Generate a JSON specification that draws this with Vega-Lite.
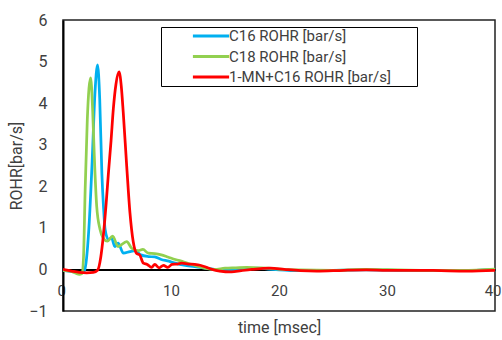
{
  "$schema": "https://vega.github.io/schema/vega-lite/v6.json",
  "width": 432,
  "height": 291,
  "autosize": "none",
  "padding": {"left": 63, "top": 20, "right": 7, "bottom": 29},
  "config": {
    "font": "Liberation Sans Narrow, Roboto, sans-serif",
    "view": {"stroke": "#222", "strokeWidth": 1.5}
  },
  "datasets": {
    "rohr": [
      {"t": 0, "v": -0.02, "s": "C16 ROHR [bar/s]"},
      {"t": 1, "v": -0.06, "s": "C16 ROHR [bar/s]"},
      {"t": 1.5, "v": -0.08, "s": "C16 ROHR [bar/s]"},
      {"t": 1.9, "v": -0.07, "s": "C16 ROHR [bar/s]"},
      {"t": 2.1, "v": 0.1, "s": "C16 ROHR [bar/s]"},
      {"t": 2.4, "v": 1.0, "s": "C16 ROHR [bar/s]"},
      {"t": 2.7, "v": 2.6, "s": "C16 ROHR [bar/s]"},
      {"t": 2.95, "v": 4.2, "s": "C16 ROHR [bar/s]"},
      {"t": 3.2, "v": 4.92, "s": "C16 ROHR [bar/s]"},
      {"t": 3.4, "v": 4.1, "s": "C16 ROHR [bar/s]"},
      {"t": 3.6, "v": 2.3, "s": "C16 ROHR [bar/s]"},
      {"t": 3.75, "v": 1.5, "s": "C16 ROHR [bar/s]"},
      {"t": 3.9, "v": 0.96, "s": "C16 ROHR [bar/s]"},
      {"t": 4.2, "v": 0.72, "s": "C16 ROHR [bar/s]"},
      {"t": 4.5, "v": 0.75, "s": "C16 ROHR [bar/s]"},
      {"t": 4.8, "v": 0.55, "s": "C16 ROHR [bar/s]"},
      {"t": 5.1, "v": 0.63, "s": "C16 ROHR [bar/s]"},
      {"t": 5.6, "v": 0.39, "s": "C16 ROHR [bar/s]"},
      {"t": 6.2, "v": 0.43, "s": "C16 ROHR [bar/s]"},
      {"t": 6.7, "v": 0.45, "s": "C16 ROHR [bar/s]"},
      {"t": 7.2, "v": 0.35, "s": "C16 ROHR [bar/s]"},
      {"t": 7.9, "v": 0.31, "s": "C16 ROHR [bar/s]"},
      {"t": 8.5, "v": 0.3, "s": "C16 ROHR [bar/s]"},
      {"t": 9.1, "v": 0.24, "s": "C16 ROHR [bar/s]"},
      {"t": 9.8, "v": 0.2, "s": "C16 ROHR [bar/s]"},
      {"t": 10.4, "v": 0.15, "s": "C16 ROHR [bar/s]"},
      {"t": 11.2, "v": 0.1, "s": "C16 ROHR [bar/s]"},
      {"t": 12.2, "v": 0.07, "s": "C16 ROHR [bar/s]"},
      {"t": 13, "v": 0.04, "s": "C16 ROHR [bar/s]"},
      {"t": 14, "v": 0, "s": "C16 ROHR [bar/s]"},
      {"t": 15, "v": -0.02, "s": "C16 ROHR [bar/s]"},
      {"t": 16, "v": -0.01, "s": "C16 ROHR [bar/s]"},
      {"t": 17, "v": 0.02, "s": "C16 ROHR [bar/s]"},
      {"t": 18, "v": 0.03, "s": "C16 ROHR [bar/s]"},
      {"t": 19, "v": 0.01, "s": "C16 ROHR [bar/s]"},
      {"t": 20, "v": -0.01, "s": "C16 ROHR [bar/s]"},
      {"t": 22, "v": -0.03, "s": "C16 ROHR [bar/s]"},
      {"t": 25, "v": -0.02, "s": "C16 ROHR [bar/s]"},
      {"t": 28, "v": -0.01, "s": "C16 ROHR [bar/s]"},
      {"t": 31, "v": -0.02, "s": "C16 ROHR [bar/s]"},
      {"t": 34, "v": -0.03, "s": "C16 ROHR [bar/s]"},
      {"t": 37, "v": -0.03, "s": "C16 ROHR [bar/s]"},
      {"t": 40, "v": 0, "s": "C16 ROHR [bar/s]"},

      {"t": 0, "v": -0.02, "s": "C18 ROHR [bar/s]"},
      {"t": 0.8, "v": -0.05, "s": "C18 ROHR [bar/s]"},
      {"t": 1.5, "v": -0.12, "s": "C18 ROHR [bar/s]"},
      {"t": 1.75, "v": -0.1, "s": "C18 ROHR [bar/s]"},
      {"t": 1.9, "v": 0.3, "s": "C18 ROHR [bar/s]"},
      {"t": 2.05, "v": 1.9, "s": "C18 ROHR [bar/s]"},
      {"t": 2.25, "v": 3.6, "s": "C18 ROHR [bar/s]"},
      {"t": 2.56, "v": 4.61, "s": "C18 ROHR [bar/s]"},
      {"t": 2.75, "v": 3.8, "s": "C18 ROHR [bar/s]"},
      {"t": 2.9, "v": 2.72, "s": "C18 ROHR [bar/s]"},
      {"t": 3.12, "v": 1.52, "s": "C18 ROHR [bar/s]"},
      {"t": 3.43, "v": 0.96, "s": "C18 ROHR [bar/s]"},
      {"t": 3.73, "v": 0.75, "s": "C18 ROHR [bar/s]"},
      {"t": 4.1, "v": 0.68, "s": "C18 ROHR [bar/s]"},
      {"t": 4.6, "v": 0.8, "s": "C18 ROHR [bar/s]"},
      {"t": 5.1, "v": 0.55, "s": "C18 ROHR [bar/s]"},
      {"t": 5.9, "v": 0.67, "s": "C18 ROHR [bar/s]"},
      {"t": 6.36, "v": 0.51, "s": "C18 ROHR [bar/s]"},
      {"t": 6.97, "v": 0.45, "s": "C18 ROHR [bar/s]"},
      {"t": 7.4, "v": 0.48, "s": "C18 ROHR [bar/s]"},
      {"t": 7.9, "v": 0.39, "s": "C18 ROHR [bar/s]"},
      {"t": 8.5, "v": 0.38, "s": "C18 ROHR [bar/s]"},
      {"t": 9.1, "v": 0.35, "s": "C18 ROHR [bar/s]"},
      {"t": 9.7, "v": 0.3, "s": "C18 ROHR [bar/s]"},
      {"t": 10.4, "v": 0.24, "s": "C18 ROHR [bar/s]"},
      {"t": 11.2, "v": 0.18, "s": "C18 ROHR [bar/s]"},
      {"t": 11.9, "v": 0.12, "s": "C18 ROHR [bar/s]"},
      {"t": 13.1, "v": 0.03, "s": "C18 ROHR [bar/s]"},
      {"t": 14, "v": 0, "s": "C18 ROHR [bar/s]"},
      {"t": 15, "v": 0.03, "s": "C18 ROHR [bar/s]"},
      {"t": 16, "v": 0.04, "s": "C18 ROHR [bar/s]"},
      {"t": 17, "v": 0.05, "s": "C18 ROHR [bar/s]"},
      {"t": 18, "v": 0.04, "s": "C18 ROHR [bar/s]"},
      {"t": 19, "v": 0.03, "s": "C18 ROHR [bar/s]"},
      {"t": 20, "v": 0.01, "s": "C18 ROHR [bar/s]"},
      {"t": 22, "v": -0.01, "s": "C18 ROHR [bar/s]"},
      {"t": 25, "v": -0.02, "s": "C18 ROHR [bar/s]"},
      {"t": 28, "v": 0, "s": "C18 ROHR [bar/s]"},
      {"t": 31, "v": -0.01, "s": "C18 ROHR [bar/s]"},
      {"t": 34, "v": -0.02, "s": "C18 ROHR [bar/s]"},
      {"t": 37, "v": -0.02, "s": "C18 ROHR [bar/s]"},
      {"t": 40, "v": 0.01, "s": "C18 ROHR [bar/s]"},

      {"t": 0, "v": 0, "s": "1-MN+C16 ROHR [bar/s]"},
      {"t": 0.8, "v": -0.04, "s": "1-MN+C16 ROHR [bar/s]"},
      {"t": 1.5, "v": -0.07, "s": "1-MN+C16 ROHR [bar/s]"},
      {"t": 2.2, "v": -0.08, "s": "1-MN+C16 ROHR [bar/s]"},
      {"t": 2.8, "v": -0.07, "s": "1-MN+C16 ROHR [bar/s]"},
      {"t": 3.2, "v": -0.02, "s": "1-MN+C16 ROHR [bar/s]"},
      {"t": 3.5, "v": 0.3, "s": "1-MN+C16 ROHR [bar/s]"},
      {"t": 3.73, "v": 0.8, "s": "1-MN+C16 ROHR [bar/s]"},
      {"t": 4.0, "v": 1.6, "s": "1-MN+C16 ROHR [bar/s]"},
      {"t": 4.2, "v": 2.3, "s": "1-MN+C16 ROHR [bar/s]"},
      {"t": 4.45, "v": 3.1, "s": "1-MN+C16 ROHR [bar/s]"},
      {"t": 4.66, "v": 3.86, "s": "1-MN+C16 ROHR [bar/s]"},
      {"t": 4.9, "v": 4.45, "s": "1-MN+C16 ROHR [bar/s]"},
      {"t": 5.19, "v": 4.75, "s": "1-MN+C16 ROHR [bar/s]"},
      {"t": 5.4, "v": 4.4, "s": "1-MN+C16 ROHR [bar/s]"},
      {"t": 5.58, "v": 3.77, "s": "1-MN+C16 ROHR [bar/s]"},
      {"t": 5.9, "v": 2.48, "s": "1-MN+C16 ROHR [bar/s]"},
      {"t": 6.2, "v": 1.36, "s": "1-MN+C16 ROHR [bar/s]"},
      {"t": 6.5, "v": 0.67, "s": "1-MN+C16 ROHR [bar/s]"},
      {"t": 6.8, "v": 0.39, "s": "1-MN+C16 ROHR [bar/s]"},
      {"t": 7.1, "v": 0.35, "s": "1-MN+C16 ROHR [bar/s]"},
      {"t": 7.44, "v": 0.15, "s": "1-MN+C16 ROHR [bar/s]"},
      {"t": 7.8, "v": 0.12, "s": "1-MN+C16 ROHR [bar/s]"},
      {"t": 8.2, "v": 0.05, "s": "1-MN+C16 ROHR [bar/s]"},
      {"t": 8.5, "v": 0.12, "s": "1-MN+C16 ROHR [bar/s]"},
      {"t": 8.9, "v": 0.04, "s": "1-MN+C16 ROHR [bar/s]"},
      {"t": 9.3, "v": 0.1, "s": "1-MN+C16 ROHR [bar/s]"},
      {"t": 9.7, "v": 0.05, "s": "1-MN+C16 ROHR [bar/s]"},
      {"t": 10.1, "v": 0.12, "s": "1-MN+C16 ROHR [bar/s]"},
      {"t": 10.6, "v": 0.13, "s": "1-MN+C16 ROHR [bar/s]"},
      {"t": 11, "v": 0.15, "s": "1-MN+C16 ROHR [bar/s]"},
      {"t": 11.6, "v": 0.13, "s": "1-MN+C16 ROHR [bar/s]"},
      {"t": 12.2, "v": 0.12, "s": "1-MN+C16 ROHR [bar/s]"},
      {"t": 12.7, "v": 0.1, "s": "1-MN+C16 ROHR [bar/s]"},
      {"t": 13.3, "v": 0.05, "s": "1-MN+C16 ROHR [bar/s]"},
      {"t": 13.8, "v": 0, "s": "1-MN+C16 ROHR [bar/s]"},
      {"t": 14.5, "v": -0.04, "s": "1-MN+C16 ROHR [bar/s]"},
      {"t": 15.6, "v": -0.06, "s": "1-MN+C16 ROHR [bar/s]"},
      {"t": 16.5, "v": -0.03, "s": "1-MN+C16 ROHR [bar/s]"},
      {"t": 17.5, "v": 0, "s": "1-MN+C16 ROHR [bar/s]"},
      {"t": 19.2, "v": 0.03, "s": "1-MN+C16 ROHR [bar/s]"},
      {"t": 20.5, "v": 0, "s": "1-MN+C16 ROHR [bar/s]"},
      {"t": 22, "v": -0.03, "s": "1-MN+C16 ROHR [bar/s]"},
      {"t": 23.5, "v": -0.04, "s": "1-MN+C16 ROHR [bar/s]"},
      {"t": 26, "v": -0.02, "s": "1-MN+C16 ROHR [bar/s]"},
      {"t": 28.1, "v": -0.01, "s": "1-MN+C16 ROHR [bar/s]"},
      {"t": 30, "v": -0.02, "s": "1-MN+C16 ROHR [bar/s]"},
      {"t": 33, "v": -0.02, "s": "1-MN+C16 ROHR [bar/s]"},
      {"t": 35, "v": -0.03, "s": "1-MN+C16 ROHR [bar/s]"},
      {"t": 37.4, "v": -0.04, "s": "1-MN+C16 ROHR [bar/s]"},
      {"t": 40, "v": -0.02, "s": "1-MN+C16 ROHR [bar/s]"}
    ]
  },
  "data": {"name": "rohr"},
  "mark": {"type": "line", "interpolate": "monotone", "strokeWidth": 2.75, "clip": true},
  "encoding": {
    "x": {
      "field": "t",
      "type": "quantitative",
      "scale": {"domain": [0, 40], "nice": false, "zero": false},
      "axis": {
        "values": [0, 10, 20, 30, 40],
        "offset": -41.6,
        "grid": false,
        "ticks": false,
        "domainColor": "#000",
        "domainWidth": 2,
        "labelFontSize": 15,
        "labelColor": "#404040",
        "labelPadding": 14,
        "labelFlush": true,
        "labelFlushOffset": 6,
        "title": "time [msec]",
        "titleFontSize": 16,
        "titleFontWeight": "normal",
        "titleColor": "#404040",
        "titlePadding": 21
      }
    },
    "y": {
      "field": "v",
      "type": "quantitative",
      "scale": {"domain": [-1, 6], "nice": false, "zero": false},
      "axis": {
        "values": [-1, 0, 1, 2, 3, 4, 5, 6],
        "grid": false,
        "ticks": false,
        "domainColor": "#000",
        "domainWidth": 2,
        "labelFontSize": 16,
        "labelColor": "#404040",
        "labelPadding": 16,
        "labelFlush": false,
        "title": "ROHR[bar/s]",
        "titleFontSize": 16,
        "titleFontWeight": "normal",
        "titleColor": "#404040",
        "titlePadding": 4
      }
    },
    "color": {
      "field": "s",
      "type": "nominal",
      "sort": ["C16 ROHR [bar/s]", "C18 ROHR [bar/s]", "1-MN+C16 ROHR [bar/s]"],
      "scale": {
        "domain": ["C16 ROHR [bar/s]", "C18 ROHR [bar/s]", "1-MN+C16 ROHR [bar/s]"],
        "range": ["#00B0F0", "#92D050", "#FF0000"]
      },
      "legend": {
        "title": "\u00a0",
        "titleOrient": "right",
        "titlePadding": 26,
        "titleFontSize": 4,
        "orient": "none",
        "legendX": 98,
        "legendY": 7,
        "symbolType": "stroke",
        "symbolSize": 1310,
        "symbolStrokeWidth": 3,
        "symbolOffset": 30,
        "clipHeight": 18,
        "labelFontSize": 15,
        "labelColor": "#404040",
        "labelOffset": -2,
        "rowPadding": 2.5,
        "padding": 0,
        "strokeColor": "#000",
        "fillColor": "#fff",
        "labelLimit": 300
      }
    }
  }
}
